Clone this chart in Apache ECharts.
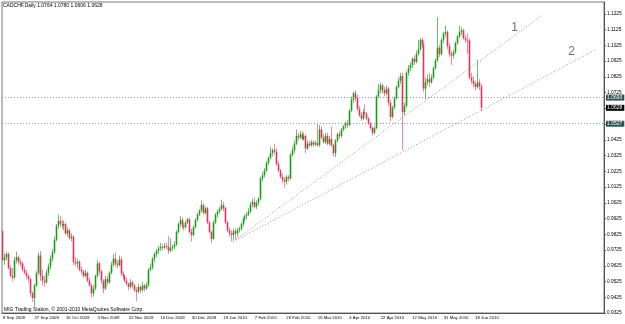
<!DOCTYPE html>
<html>
<head>
<meta charset="utf-8">
<title>CADCHF,Daily</title>
<script src="https://cdn.jsdelivr.net/npm/echarts@6/dist/echarts.min.js"></script>
<style>html,body{margin:0;padding:0;background:#fff}</style>
</head>
<body>
<div id="main" style="width:625px;height:324px"></div>
<script>
// daily bars, prices in 1/10000
var opens = [
  9845,9660,9680,9700,9610,9560,9550,9660,9680,9650,
  9640,9600,9580,9560,9540,9450,9420,9500,9580,9690,
  9560,9530,9520,9580,9620,9670,9710,9790,9880,9910,
  9890,9880,9890,9830,9850,9800,9810,9650,9640,9650,
  9600,9590,9560,9580,9530,9500,9450,9480,9560,9640,
  9590,9530,9480,9540,9520,9580,9630,9670,9640,9630,
  9665,9575,9560,9530,9510,9490,9520,9500,9470,9460,
  9490,9470,9500,9480,9500,9600,9615,9670,9700,9720,
  9735,9745,9740,9750,9745,9720,9740,9745,9760,9840,
  9890,9915,9880,9870,9900,9920,9840,9820,9870,9915,
  9950,9975,10010,9960,9990,9900,9840,9795,9900,9950,
  9970,9985,10010,9990,9900,9850,9830,9820,9845,9830,
  9850,9860,9890,9920,9940,9950,9970,10015,10030,10000,
  10025,10050,10180,10200,10230,10280,10310,10340,10360,10350,
  10270,10230,10190,10170,10160,10190,10180,10330,10360,10400,
  10450,10440,10460,10430,10450,10370,10400,10390,10410,10395,
  10405,10390,10490,10440,10410,10450,10400,10430,10390,10340,
  10420,10460,10450,10490,10510,10530,10520,10610,10680,10720,
  10690,10620,10580,10560,10600,10590,10560,10530,10500,10470,
  10500,10700,10740,10770,10740,10720,10750,10660,10570,10630,
  10690,10760,10800,10830,10600,10640,10850,10880,10900,10940,
  10920,10970,11000,11060,11030,10750,10790,10810,10790,10820,
  10880,10930,11010,10970,11060,11100,11110,11020,10970,10960,
  10980,11040,11080,11110,11120,11070,11060,11055,10820,10800,
  10780,10760,10790,10764
];
var closes = [
  9660,9680,9700,9610,9560,9550,9660,9680,9650,9640,
  9600,9580,9560,9540,9450,9420,9500,9580,9690,9560,
  9530,9520,9580,9620,9670,9710,9790,9880,9910,9890,
  9880,9890,9830,9850,9800,9810,9650,9640,9650,9600,
  9590,9560,9580,9530,9500,9450,9480,9560,9640,9590,
  9530,9480,9540,9520,9580,9630,9670,9640,9630,9665,
  9575,9560,9530,9510,9490,9520,9500,9470,9460,9490,
  9470,9500,9480,9500,9600,9615,9670,9700,9720,9735,
  9745,9740,9750,9745,9720,9740,9745,9760,9840,9890,
  9915,9880,9870,9900,9920,9840,9820,9870,9915,9950,
  9975,10010,9960,9990,9900,9840,9795,9900,9950,9970,
  9985,10010,9990,9900,9850,9830,9820,9845,9830,9850,
  9860,9890,9920,9940,9950,9970,10015,10030,10000,10025,
  10050,10180,10200,10230,10280,10310,10340,10360,10350,10270,
  10230,10190,10170,10160,10190,10180,10330,10360,10400,10450,
  10440,10460,10430,10450,10370,10400,10390,10410,10395,10405,
  10390,10490,10440,10410,10450,10400,10430,10390,10340,10420,
  10460,10450,10490,10510,10530,10520,10610,10680,10720,10690,
  10620,10580,10560,10600,10590,10560,10530,10500,10470,10500,
  10700,10740,10770,10740,10720,10750,10660,10570,10630,10690,
  10760,10800,10830,10600,10640,10850,10880,10900,10940,10920,
  10970,11000,11060,11030,10750,10790,10810,10790,10820,10880,
  10930,11010,10970,11060,11100,11110,11020,10970,10960,10980,
  11040,11080,11110,11120,11070,11060,11055,10820,10800,10780,
  10760,10790,10764,10628
];
var highs = [
  9855,9705,9715,9710,9630,9610,9680,9715,9690,9670,
  9650,9620,9600,9570,9550,9460,9510,9590,9710,9720,
  9600,9560,9600,9640,9690,9730,9810,9890,9950,9940,
  9920,9910,9900,9870,9860,9830,9820,9680,9670,9660,
  9620,9600,9600,9590,9550,9510,9500,9570,9660,9650,
  9600,9540,9560,9560,9590,9650,9700,9710,9660,9690,
  9680,9590,9570,9550,9520,9540,9530,9510,9490,9510,
  9500,9520,9510,9520,9610,9640,9680,9710,9730,9750,
  9770,9760,9770,9770,9815,9800,9760,9780,9850,9900,
  9940,9930,9900,9910,9930,9930,9860,9880,9925,9960,
  9985,10040,10020,10000,10000,9910,9850,9910,9960,9980,
  10000,10045,10030,10000,9910,9870,9850,9860,9860,9865,
  9875,9900,9930,9950,9965,9990,10030,10050,10060,10040,
  10060,10190,10220,10245,10290,10320,10380,10370,10400,10370,
  10290,10240,10210,10190,10200,10200,10340,10380,10420,10490,
  10470,10480,10480,10470,10460,10420,10420,10425,10420,10420,
  10530,10520,10510,10460,10470,10470,10450,10510,10400,10430,
  10470,10480,10500,10520,10540,10550,10620,10700,10730,10740,
  10710,10640,10600,10620,10650,10600,10570,10540,10510,10510,
  10710,10780,10790,10780,10760,10770,10760,10680,10640,10700,
  10770,10820,10850,10850,10660,10860,10900,10920,10950,10960,
  10990,11060,11070,11075,11050,10820,10840,10850,10840,10890,
  10940,11205,11030,11070,11110,11150,11120,11040,10990,11000,
  11050,11090,11150,11140,11130,11090,11100,11070,10850,10830,
  10800,10935,10810,10780
];
var lows = [
  9650,9630,9660,9600,9550,9525,9540,9640,9630,9620,
  9590,9570,9540,9520,9430,9395,9365,9490,9570,9530,
  9500,9490,9510,9560,9600,9650,9700,9780,9860,9870,
  9860,9850,9820,9810,9790,9780,9630,9620,9610,9590,
  9570,9550,9550,9520,9490,9420,9430,9470,9550,9570,
  9510,9450,9470,9500,9510,9570,9620,9620,9610,9620,
  9560,9540,9520,9500,9470,9480,9480,9460,9400,9450,
  9450,9460,9460,9470,9490,9590,9600,9650,9680,9700,
  9720,9720,9730,9730,9700,9710,9720,9730,9750,9830,
  9870,9860,9850,9860,9890,9830,9780,9810,9860,9905,
  9940,9965,9950,9950,9890,9830,9770,9790,9890,9930,
  9955,9975,9970,9890,9840,9810,9780,9790,9790,9810,
  9835,9850,9875,9905,9920,9940,9960,9995,9990,9985,
  10010,10040,10160,10185,10220,10265,10300,10320,10330,10260,
  10220,10180,10150,10120,10140,10160,10170,10320,10340,10390,
  10420,10430,10420,10420,10340,10360,10380,10380,10380,10385,
  10380,10380,10430,10400,10400,10390,10390,10380,10320,10315,
  10410,10430,10440,10480,10495,10500,10510,10600,10660,10670,
  10610,10570,10545,10550,10580,10550,10520,10490,10450,10460,
  10490,10690,10720,10720,10700,10710,10640,10540,10560,10620,
  10680,10750,10780,10360,10580,10630,10830,10860,10880,10900,
  10910,10960,10990,11010,10730,10680,10770,10760,10780,10810,
  10870,10920,10950,10960,11040,11080,11000,10950,10900,10940,
  10970,11030,11070,11090,11060,11040,10970,10810,10780,10760,
  10740,10750,10740,10606
];

var dateLabels = ['8 Sep 2009', '27 Sep 2009', '16 Oct 2009', '3 Nov 2009', '22 Nov 2009',
  '10 Dec 2009', '30 Dec 2009', '19 Jan 2010', '7 Feb 2010', '26 Feb 2010', '16 Mar 2010',
  '4 Apr 2010', '22 Apr 2010', '12 May 2010', '31 May 2010', '18 Jun 2010'];
var labelEvery = 16;   // bars between date labels
var slotCount = 306;   // bar slots across the chart (right part is empty)

// horizontal levels and trend lines drawn on the chart
var levels = [1.0693, 1.0527];
var trend1 = [[117, 0.9779], [274, 1.1215]];
var trend2 = [[117, 0.9779], [301, 1.0995]];
var trendNames = [{ name: '1', coord: [260, 1.1135] }, { name: '2', coord: [289, 1.0982] }];

var font = '"Liberation Sans", sans-serif';
var last = closes.length - 1;
var fmt = function (v) { return (v / 10000).toFixed(4); };
var header = 'CADCHF,Daily ' + [opens[last], highs[last], lows[last], closes[last]].map(fmt).join(' ');

var bars = opens.map(function (o, i) {
  return [i, o / 10000, closes[i] / 10000, lows[i] / 10000, highs[i] / 10000];
});
var slots = [];
for (var i = 0; i < slotCount; i++) slots.push(i);

function showDate(idx) {
  return idx % labelEvery === 0 && idx / labelEvery < dateLabels.length;
}

var upBody = '#1a9e1a', upWick = '#6cc06c';
var downBody = '#e5305a', downWick = '#f08aa4';

function renderCandle(params, api) {
  var i = api.value(0), o = api.value(1), c = api.value(2);
  var pl = api.coord([i, api.value(3)]);
  var ph = api.coord([i, api.value(4)]);
  var po = api.coord([i, o]);
  var pc = api.coord([i, c]);
  var up = c >= o;
  var x = Math.floor(ph[0]) + 0.5;
  var top = Math.min(po[1], pc[1]);
  var h = Math.max(Math.abs(po[1] - pc[1]), 1);
  return {
    type: 'group',
    children: [
      { type: 'line', shape: { x1: x, y1: ph[1], x2: x, y2: pl[1] },
        style: { stroke: up ? upWick : downWick, lineWidth: 1 } },
      { type: 'rect', shape: { x: x - 0.8, y: top, width: 1.6, height: h },
        style: { fill: up ? upBody : downBody } }
    ]
  };
}

var dotted = { color: '#8a96a4', type: [1, 2], width: 1 };
var boxLabel = {
  show: true, position: 'end', distance: 2,
  formatter: function (p) { return Number(p.value).toFixed(4); },
  color: '#fff', backgroundColor: '#2f5050', padding: [1, 2, 0, 1],
  fontSize: 5, fontFamily: font
};

var myChart = echarts.init(document.getElementById('main'));
var option = {
  animation: false,
  backgroundColor: '#fff',
  title: {
    text: header, left: 3, top: 3, padding: 0,
    textStyle: { fontSize: 5, fontWeight: 'normal', color: '#000', fontFamily: font }
  },
  grid: { left: 2, right: 21, top: 2, bottom: 11, show: true, borderColor: '#777', borderWidth: 1 },
  xAxis: {
    type: 'category', data: slots, boundaryGap: true,
    axisLine: { lineStyle: { color: '#555' } },
    axisTick: { interval: showDate, alignWithLabel: true, length: 2, lineStyle: { color: '#555' } },
    axisLabel: {
      interval: showDate, align: 'left', margin: 3,
      formatter: function (v, idx) { return dateLabels[idx / labelEvery]; },
      fontSize: 4.3, color: '#000', fontFamily: font
    },
    splitLine: { show: false }
  },
  yAxis: {
    type: 'value', position: 'right', min: 0.9325, max: 1.13, interval: 0.01,
    axisLine: { show: true, lineStyle: { color: '#555' } },
    axisTick: { show: true, length: 2, lineStyle: { color: '#555' } },
    axisLabel: {
      margin: 3, showMaxLabel: false, fontSize: 4.8, color: '#000', fontFamily: font,
      formatter: function (v) { return v.toFixed(4); }
    },
    splitLine: { show: false }
  },
  graphic: [{
    type: 'text', left: 4, top: 307,
    style: { text: 'MIG Trading Station, \u00a9 2001-2010 MetaQuotes Software Corp.', fontSize: 5, fontFamily: font, fill: '#000' }
  }],
  series: [
    {
      type: 'custom', data: bars, renderItem: renderCandle, clip: true, silent: true,
      encode: { x: 0, y: [1, 2, 3, 4] },
      markLine: {
        silent: true, symbol: ['none', 'none'], animation: false, precision: 4,
        lineStyle: dotted,
        label: boxLabel,
        data: [
          { yAxis: levels[0] },
          { yAxis: levels[1] },
          { yAxis: closes[last] / 10000, lineStyle: { color: 'rgba(0,0,0,0)' }, label: { backgroundColor: '#000' } }
        ]
      }
    },
    {
      type: 'line', data: trend1, showSymbol: false, silent: true, lineStyle: dotted,
      markPoint: {
        symbolSize: 0, silent: true,
        label: { show: true, position: 'inside', formatter: '{b}', color: '#66737f', fontSize: 12, fontFamily: font },
        data: [trendNames[0]]
      }
    },
    {
      type: 'line', data: trend2, showSymbol: false, silent: true, lineStyle: dotted,
      markPoint: {
        symbolSize: 0, silent: true,
        label: { show: true, position: 'inside', formatter: '{b}', color: '#66737f', fontSize: 12, fontFamily: font },
        data: [trendNames[1]]
      }
    }
  ]
};
option && myChart.setOption(option);
</script>
</body>
</html>
